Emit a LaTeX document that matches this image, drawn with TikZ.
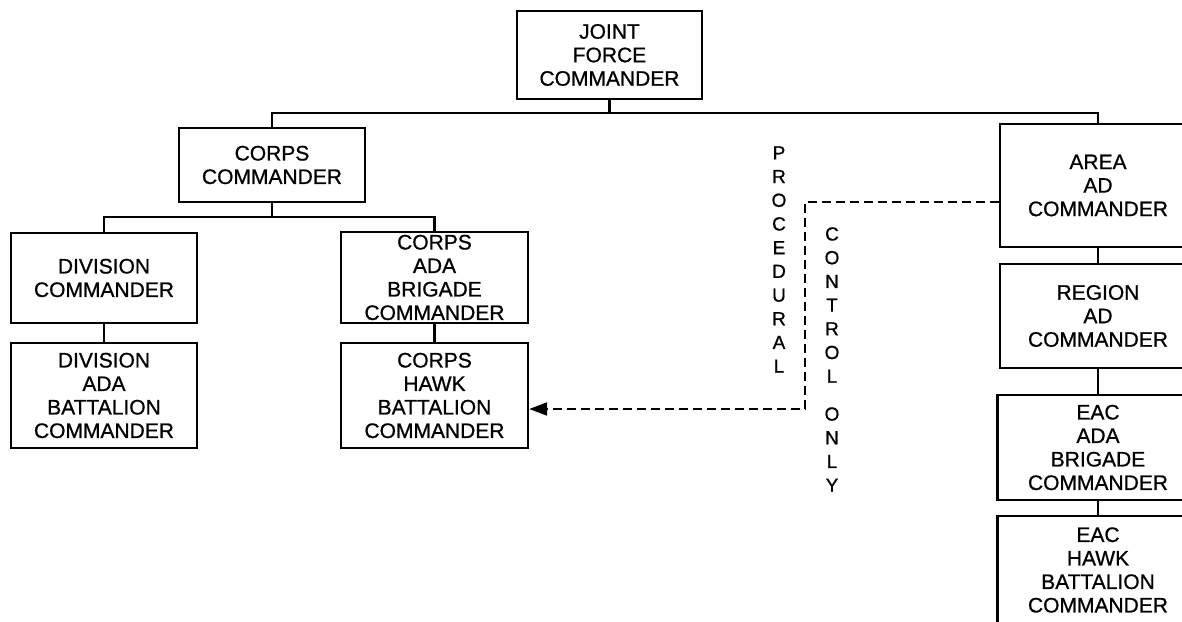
\documentclass[tikz,border=0pt]{standalone}
\usepackage{fontspec}
\setmainfont{Liberation Sans}
\newfontfamily\chartfont{Liberation Sans}[FakeBold=0.8]
\usetikzlibrary{arrows.meta}
\begin{document}
\begin{tikzpicture}[x=1pt,y=-1pt,
  box/.style={draw, line width=2.4pt, inner sep=0pt, align=center, font=\chartfont\fontsize{21}{23.5}\selectfont},
  link/.style={line width=2.4pt},
  ctl/.style={line width=2.1pt, dash pattern=on 9pt off 5pt},
  vtext/.style={align=center, inner sep=0pt, font=\chartfont\fontsize{19}{23.7}\selectfont}]
\useasboundingbox (0,0) rectangle (1182,621);
\clip (0,0) rectangle (1182,621);

\node[box, minimum width=185, minimum height=88] (jfc) at (609.5,55) {JOINT\\FORCE\\COMMANDER};
\node[box, minimum width=186, minimum height=74] (corps) at (272,165) {CORPS\\COMMANDER};
\node[box, minimum width=186, minimum height=90] (div) at (104,278) {DIVISION\\COMMANDER};
\node[box, minimum width=186, minimum height=105] (divada) at (104,395.5) {DIVISION\\ADA\\BATTALION\\COMMANDER};
\node[box, minimum width=187, minimum height=91] (brig) at (434.5,277.5) {CORPS\\ADA\\BRIGADE\\COMMANDER};
\node[box, minimum width=187, minimum height=105] (hawk) at (434.5,395.5) {CORPS\\HAWK\\BATTALION\\COMMANDER};

\node[box, minimum width=196, minimum height=123] (area) at (1098,185.5) {AREA\\AD\\COMMANDER};
\node[box, minimum width=196, minimum height=104] (region) at (1098,316) {REGION\\AD\\COMMANDER};
\node[box, minimum width=201, minimum height=105] (eacbrig) at (1098,447.5) {EAC\\ADA\\BRIGADE\\COMMANDER};
\node[box, minimum width=201, minimum height=108] (eachawk) at (1098,570) {EAC\\HAWK\\BATTALION\\COMMANDER};

% tree connectors
\coordinate (bus1) at (0,113);
\coordinate (bus2) at (0,217);
\draw[link] (corps.north) -- (corps.north |- bus1) -- (area.north |- bus1) -- (area.north);
\draw[link] (jfc.south) -- (jfc.south |- bus1);
\draw[link] (div.north) -- (div.north |- bus2) -- (brig.north |- bus2) -- (brig.north);
\draw[link] (corps.south) -- (corps.south |- bus2);
\draw[link] (div.south) -- (divada.north);
\draw[link] (brig.south) -- (hawk.north);
\draw[link] (area.south) -- (region.north);
\draw[link] (region.south) -- (eacbrig.north);
\draw[link] (eacbrig.south) -- (eachawk.north);

% procedural control
\coordinate (dc) at (805,409);
\draw[ctl, -{Triangle[length=18pt,width=13pt]}] ([yshift=-16.5pt]area.west) -| (dc) -- ([yshift=-13.5pt]hawk.east);

\node[vtext] (proc) at (779,259.5) {P\\R\\O\\C\\E\\D\\U\\R\\A\\L};
\node[vtext] (ctrl) at (832,305) {C\\O\\N\\T\\R\\O\\L};
\node[vtext] (only) at (832,449.5) {O\\N\\L\\Y};
\end{tikzpicture}
\end{document}
